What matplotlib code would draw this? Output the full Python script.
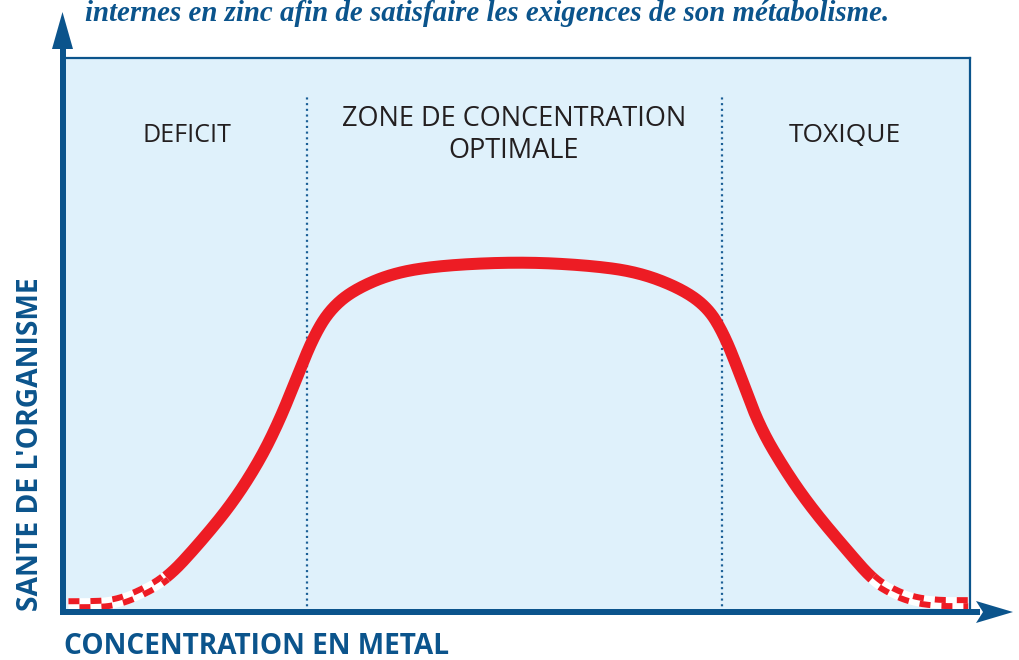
import numpy as np
import matplotlib
matplotlib.use("Agg")
import matplotlib.pyplot as plt
from matplotlib.patches import Polygon

plt.rcParams['lines.scale_dashes'] = False

# ---- data (concentration 0-100, health 0-100) ----
conc = [0.6, 3.0, 5.5, 8.2, 11.5, 15.1, 18.7, 21.7, 23.9, 25.8, 27.6, 29.4,
        32.0, 36.4, 41.9, 50.4, 57.8, 63.3, 68.0, 71.0, 72.8, 74.6, 76.8,
        79.8, 82.7, 86.4, 89.3, 91.5, 93.7, 96.4, 99.8]
health = [1.4, 1.4, 1.6, 3.1, 6.1, 12.5, 19.7, 27.4, 34.7, 42.4, 49.6, 54.5,
          58.1, 61.2, 62.6, 63.2, 62.6, 61.4, 58.5, 55.1, 50.4, 43.1, 33.4,
          25.1, 18.4, 11.2, 5.8, 3.6, 2.2, 1.6, 1.6]
zone_bounds = [26.9, 72.7]          # dotted separators
checker_limits = [11.3, 89.3]       # checkered (uncertain) ends
zone_labels = ["DEFICIT", "ZONE DE CONCENTRATION\nOPTIMALE", "TOXIQUE"]
title = "internes en zinc afin de satisfaire les exigences de son métabolisme."
xlabel = "CONCENTRATION EN METAL"
ylabel = "SANTE DE L'ORGANISME"

NAVY = "#0b548c"
RED = "#ed1c24"
FILL = "#dff1fb"
TXT = "#231f20"

W, H = 1020, 660
fig = plt.figure(figsize=(W / 100, H / 100), dpi=100)
L, R, T, B = 63, 970, 58, 612
ax = fig.add_axes([L / W, (H - B) / H, (R - L) / W, (B - T) / H])
ax.set_xlim(0, 100)
ax.set_ylim(0, 100)
ax.set_facecolor(FILL)
ax.set_xticks([]); ax.set_yticks([])
for s in ["left", "bottom"]:
    ax.spines[s].set_visible(False)
for s in ["top", "right"]:
    ax.spines[s].set_color(NAVY)
    ax.spines[s].set_linewidth(1.6)

px = 0.72  # points per pixel


def chaikin(P, iters=5):
    """corner-cutting smoothing of the polyline (rendering only)"""
    for _ in range(iters):
        Q = 0.75 * P[:-1] + 0.25 * P[1:]
        Rr = 0.25 * P[:-1] + 0.75 * P[1:]
        mid_pts = np.empty((2 * len(Q), 2))
        mid_pts[0::2] = Q
        mid_pts[1::2] = Rr
        P = np.vstack([P[0], mid_pts, P[-1]])
    return P


disp = ax.transData.transform(np.column_stack([conc, health]))
sm = ax.transData.inverted().transform(chaikin(disp))
cx, cy = sm[:, 0], sm[:, 1]

mid = (cx >= checker_limits[0]) & (cx <= checker_limits[1])
ax.plot(cx[mid], cy[mid], color=RED, lw=12 * px, solid_capstyle="butt",
        solid_joinstyle="round", zorder=5)


def checker(mask):
    xs, ys = cx[mask], cy[mask]
    ax.plot(xs, ys, color="white", lw=12 * px, solid_capstyle="butt", zorder=4)
    d = ax.transData.transform(np.column_stack([xs, ys]))
    tang = np.gradient(d, axis=0)
    tang /= np.linalg.norm(tang, axis=1)[:, None]
    nrm = np.column_stack([-tang[:, 1], tang[:, 0]])
    cell = 11 * px
    for k, sgn in enumerate([1, -1]):
        off = d + sgn * 3.0 * nrm
        dd = ax.transData.inverted().transform(off)
        ax.plot(dd[:, 0], dd[:, 1], color=RED, lw=6 * px,
                linestyle=(k * cell, (cell, cell)), dash_capstyle="butt",
                zorder=5)


checker(cx <= checker_limits[0] + 0.1)
checker(cx >= checker_limits[1] - 0.1)

# dotted zone separators
for xb in zone_bounds:
    ax.plot([xb, xb], [0, (B - 95) / (B - T) * 100], color="#1a5f96", lw=1.6,
            linestyle=(0, (1.5, 2.6)), zorder=3)

# overlay in pixel coordinates for axes arrows and text
ov = fig.add_axes([0, 0, 1, 1], zorder=10)
ov.set_xlim(0, W); ov.set_ylim(H, 0)
ov.axis("off"); ov.patch.set_visible(False)
ov.plot([63, 63], [615, 46], color=NAVY, lw=6 * px, solid_capstyle="butt")
ov.add_patch(Polygon([(52, 49), (73, 49), (62.5, 12)], closed=True, color=NAVY, lw=0))
ov.plot([60, 980], [612, 612], color=NAVY, lw=6 * px, solid_capstyle="butt")
ov.add_patch(Polygon([(976, 601), (983, 612), (976, 623), (1013, 612)], closed=True,
                     color=NAVY, lw=0))

ov.text(85, 21, title, family="Liberation Serif", style="italic", weight="bold",
        fontsize=20.8, color=NAVY, ha="left", va="baseline")

ov.text(187, 135, zone_labels[0], family="Open Sans", fontsize=18, color=TXT,
        ha="center", va="center")
ov.text(514, 135, zone_labels[1], family="Open Sans", fontsize=19.5, color=TXT,
        ha="center", va="center", linespacing=1.15)
ov.text(845, 135, zone_labels[2], family="Open Sans", fontsize=19, color=TXT,
        ha="center", va="center")

ov.text(64, 654, xlabel, family="Open Sans", weight="bold", fontsize=20.2,
        color=NAVY, ha="left", va="baseline")
ov.text(31, 611, ylabel, family="Open Sans", weight="bold", fontsize=20.3,
        color=NAVY, ha="center", va="bottom", rotation=90)

fig.savefig("out.png", dpi=100)
